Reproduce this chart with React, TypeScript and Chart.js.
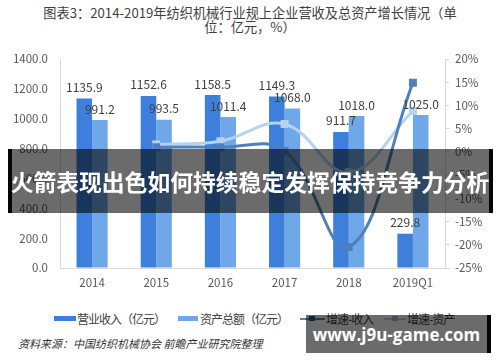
import React, { useEffect, useRef } from 'react';
import { Chart, registerables } from 'chart.js';

Chart.register(...registerables);

const titleLine1 = '图表3：2014-2019年纺织机械行业规上企业营收及总资产增长情况（单';
const titleLine2 = '位：亿元，%）';
const categories = ['2014', '2015', '2016', '2017', '2018', '2019Q1'];
const revenue = [1135.9, 1152.6, 1158.5, 1149.3, 911.7, 229.8];
const assets = [991.2, 993.5, 1011.4, 1068.0, 1018.0, 1025.0];
const revenueGrowth = [null, 1.0, 1.0, 0.2, -20.5, 14.9];
const assetGrowth = [null, 1.6, 2.3, 6.0, -4.4, 8.8];
const seriesNames = ['营业收入（亿元）', '资产总额（亿元）', '增速-收入', '增速-资产'];
const leftMin = 0;
const leftMax = 1400;
const leftStep = 200;
const rightMin = -25;
const rightMax = 20;
const rightStep = 5;
const sourceText = '资料来源：中国纺织机械协会 前瞻产业研究院整理';
const bannerText = '火箭表现出色如何持续稳定发挥保持竞争力分析';
const watermarkText = 'www.j9u-game.com';

const C_DARK_BAR = '#3D7FDB';
const C_LIGHT_BAR = '#6FA7E8';
const C_DARK_LINE = '#4F80BC';
const C_LIGHT_LINE = '#B5D3EF';
const AXIS = '#D9D9D9';
const TICK_TEXT = '#595959';
const FONT = '"Noto Sans CJK SC", "Liberation Sans", sans-serif';

const barLabelPlugin = {
  id: 'barLabels',
  afterDatasetsDraw(chart: any) {
    const ctx = chart.ctx;
    ctx.save();
    ctx.font = `12px ${FONT}`;
    ctx.fillStyle = '#404040';
    ctx.textAlign = 'center';
    ctx.textBaseline = 'middle';
    chart.data.datasets.forEach((ds: any, i: number) => {
      if (ds.type !== 'bar') return;
      const meta = chart.getDatasetMeta(i);
      meta.data.forEach((el: any, j: number) => {
        const v = ds.data[j];
        if (v == null) return;
        ctx.fillText(Number(v).toFixed(1), el.x, el.y - 11);
      });
    });
    ctx.restore();
  },
};

export default function App() {
  const ref = useRef<HTMLCanvasElement | null>(null);

  useEffect(() => {
    if (!ref.current) return;
    const chart = new Chart(ref.current, {
      type: 'bar',
      data: {
        labels: categories,
        datasets: [
          {
            type: 'line',
            label: seriesNames[2],
            data: revenueGrowth,
            yAxisID: 'y1',
            borderColor: C_DARK_LINE,
            backgroundColor: C_DARK_LINE,
            borderWidth: 3,
            pointStyle: 'rect',
            pointRadius: 3.5,
            tension: 0.4,
            spanGaps: true,
            order: 0,
          } as any,
          {
            type: 'line',
            label: seriesNames[3],
            data: assetGrowth,
            yAxisID: 'y1',
            borderColor: C_LIGHT_LINE,
            backgroundColor: C_LIGHT_LINE,
            borderWidth: 3,
            pointStyle: 'rect',
            pointRadius: 3.5,
            tension: 0.4,
            spanGaps: true,
            order: 1,
          } as any,
          {
            type: 'bar',
            label: seriesNames[0],
            data: revenue,
            yAxisID: 'y',
            backgroundColor: C_DARK_BAR,
            categoryPercentage: 0.485,
            barPercentage: 1,
            order: 2,
          } as any,
          {
            type: 'bar',
            label: seriesNames[1],
            data: assets,
            yAxisID: 'y',
            backgroundColor: C_LIGHT_BAR,
            categoryPercentage: 0.485,
            barPercentage: 1,
            order: 2,
          } as any,
        ],
      },
      options: {
        animation: false,
        responsive: false,
        maintainAspectRatio: false,
        layout: { padding: { top: 59, bottom: 7, left: 0, right: 0 } },
        plugins: {
          legend: { display: false },
          tooltip: { enabled: false },
          title: { display: false },
        },
        scales: {
          x: {
            grid: { display: false, drawTicks: false },
            border: { display: true, color: AXIS, width: 1 },
            ticks: { color: TICK_TEXT, font: { size: 11.5, family: FONT }, padding: 8 },
            afterFit: (s: any) => { s.height = 25; },
          },
          y: {
            position: 'left',
            min: leftMin,
            max: leftMax,
            grid: { display: true, drawOnChartArea: false, drawTicks: false },
            border: { display: true, color: AXIS, width: 1 },
            ticks: {
              stepSize: leftStep,
              color: TICK_TEXT,
              font: { size: 11.5, family: FONT },
              padding: 12,
              callback: (v: any) => Number(v).toFixed(1),
            },
            afterFit: (s: any) => { s.width = 60; },
          },
          y1: {
            position: 'right',
            min: rightMin,
            max: rightMax,
            grid: { display: true, drawOnChartArea: false, drawTicks: true, tickLength: 4, tickColor: AXIS },
            border: { display: true, color: AXIS, width: 1 },
            ticks: {
              stepSize: rightStep,
              color: TICK_TEXT,
              font: { size: 11.5, family: FONT },
              padding: 6,
              callback: (v: any) => `${v}%`,
            },
            afterFit: (s: any) => { s.width = 55; },
          },
        },
      },
      plugins: [barLabelPlugin],
    });
    return () => chart.destroy();
  }, []);

  const legendText: React.CSSProperties = {
    position: 'absolute',
    top: 311,
    fontSize: 12,
    letterSpacing: -1,
    color: '#404040',
    fontFamily: FONT,
    whiteSpace: 'nowrap',
    lineHeight: '16px',
  };

  return (
    <div style={{ position: 'fixed', left: 0, top: 0, width: 500, height: 362, background: '#fff', overflow: 'hidden', fontFamily: FONT }}>
      <div style={{ position: 'absolute', left: 0, top: 6, width: 500, textAlign: 'center', fontSize: 13.2, lineHeight: '14px', color: '#3F3F3F', whiteSpace: 'nowrap' }}>
        <div>{titleLine1}</div>
        <div>{titleLine2}</div>
      </div>
      <canvas ref={ref} width={500} height={300} style={{ position: 'absolute', left: 0, top: 0, width: 500, height: 300 }} />

      {/* legend */}
      <div style={{ position: 'absolute', left: 54, top: 316, width: 22, height: 5, background: C_DARK_BAR }} />
      <div style={{ ...legendText, left: 77 }}>{seriesNames[0]}</div>
      <div style={{ position: 'absolute', left: 178, top: 316, width: 20, height: 5, background: C_LIGHT_BAR }} />
      <div style={{ ...legendText, left: 200 }}>{seriesNames[1]}</div>
      <div style={{ position: 'absolute', left: 300, top: 318, width: 25, height: 2, background: C_DARK_LINE }} />
      <div style={{ position: 'absolute', left: 309, top: 316, width: 6, height: 5, background: '#2F5585' }} />
      <div style={{ ...legendText, left: 326 }}>{seriesNames[2]}</div>
      <div style={{ position: 'absolute', left: 384, top: 318, width: 22, height: 2, background: C_LIGHT_LINE }} />
      <div style={{ position: 'absolute', left: 392, top: 316, width: 6, height: 5, background: '#9DBBD9' }} />
      <div style={{ ...legendText, left: 407 }}>{seriesNames[3]}</div>

      {/* source */}
      <div style={{ position: 'absolute', left: 18, top: 336, fontSize: 11, fontStyle: 'italic', color: '#333', whiteSpace: 'nowrap', lineHeight: '14px' }}>{sourceText}</div>

      {/* banner overlay */}
      <div style={{ position: 'absolute', left: 8, top: 149, width: 477, height: 64, background: 'rgba(0,0,0,0.58)', borderLeft: '4px solid rgba(0,0,0,0.95)', borderRight: '4px solid rgba(0,0,0,0.95)' }} />
      <div style={{ position: 'absolute', left: 0, top: 149, width: 500, height: 64, display: 'flex', alignItems: 'center', justifyContent: 'center', color: '#fff', fontWeight: 700, fontSize: 22.8, whiteSpace: 'nowrap', lineHeight: '64px', paddingTop: 2, boxSizing: 'border-box' }}>{bannerText}</div>

      {/* watermark overlay */}
      <div style={{ position: 'absolute', left: 306, top: 315, width: 181, height: 38, background: 'rgba(0,0,0,0.58)', borderRight: '4px solid rgba(0,0,0,0.95)' }} />
      <div style={{ position: 'absolute', left: 306, top: 315, width: 181, height: 38, display: 'flex', alignItems: 'center', justifyContent: 'center', color: '#fff', fontWeight: 700, fontSize: 17, fontFamily: '"Open Sans", sans-serif', whiteSpace: 'nowrap' }}>{watermarkText}</div>
    </div>
  );
}
